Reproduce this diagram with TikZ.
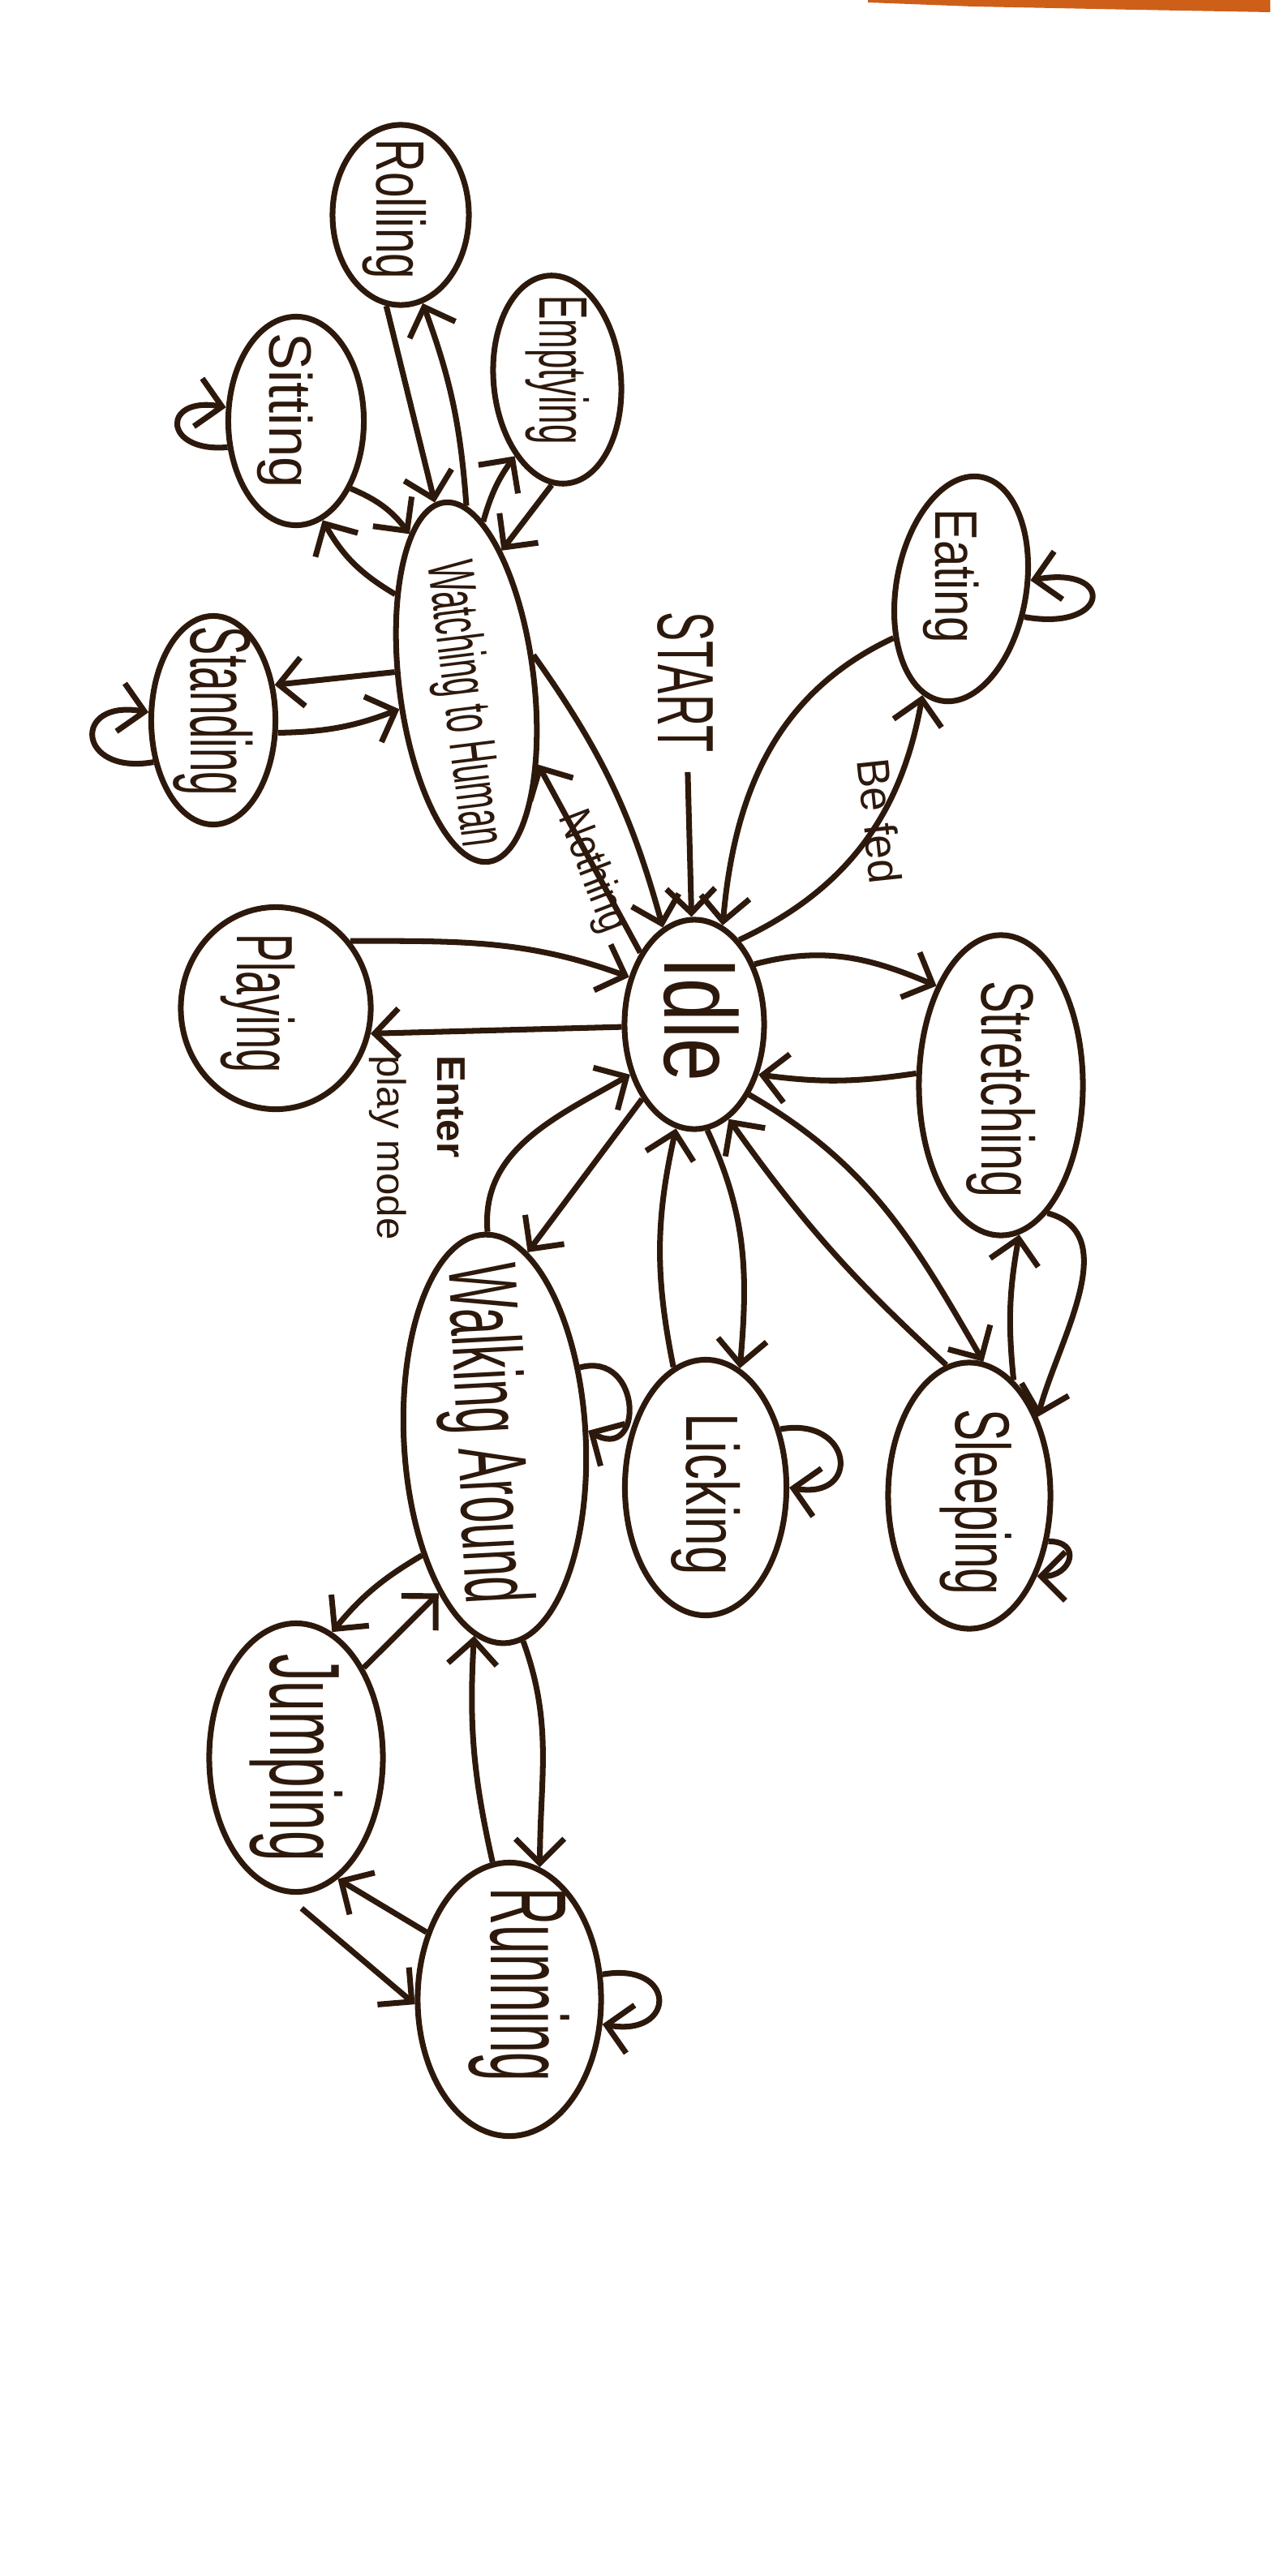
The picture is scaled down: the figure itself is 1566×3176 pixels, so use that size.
\documentclass[tikz,border=0pt]{standalone}
\usepackage{fontspec}
\setmainfont{Liberation Sans}
\usetikzlibrary{shapes.geometric,arrows.meta}
\definecolor{ink}{RGB}{45,25,12}
\definecolor{smudge}{RGB}{205,95,25}
\newcommand{\hw}[3][-90]{\rotatebox{#1}{\scalebox{#2}[1]{#3}}}
\tikzset{
  state/.style={ellipse,draw=ink,line width=2pt,inner sep=0pt},
  lbl/.style={text=ink,inner sep=0pt},
}
\begin{document}
\begin{tikzpicture}[x=0.01cm,y=0.01cm,line width=2pt,color=ink,>={Straight Barb[length=3mm,width=6mm]}]
	\fill[white] (0,0) rectangle (1566,-3176);
	\useasboundingbox (0,0) rectangle (1566,-3176);
	\fill[smudge] (1070,0) -- (1566,0) -- (1566,-15) -- (1400,-12) -- (1200,-8) -- (1070,-3) -- cycle;

	\node at (856,-1263)  [state,minimum width=1.72cm,minimum height=2.58cm,label={[lbl,font=\fontsize{36}{36}\selectfont,xshift=0.09cm,yshift=0.06cm]center:\hw{0.75}{Idle}}] (idle) {};
	\node at (1185,-726)  [state,rotate=-10,minimum width=1.60cm,minimum height=2.80cm,label={[lbl,font=\fontsize{21}{21}\selectfont,xshift=-0.12cm,yshift=0.16cm]center:\hw{0.79}{Eating}}] (eating) {};
	\node at (1234,-1338) [state,minimum width=2.02cm,minimum height=3.70cm,label={[lbl,font=\fontsize{26}{26}\selectfont,yshift=-0.05cm]center:\hw{0.65}{Stretching}}] (stretching) {};
	\node at (1195,-1844) [state,minimum width=2.00cm,minimum height=3.28cm,label={[lbl,font=\fontsize{27}{27}\selectfont,xshift=0.08cm,yshift=-0.08cm]center:\hw{0.62}{Sleeping}}] (sleeping) {};
	\node at (870,-1834)  [state,minimum width=1.99cm,minimum height=3.15cm,label={[lbl,font=\fontsize{26}{26}\selectfont,yshift=-0.08cm]center:\hw{0.7}{Licking}}] (licking) {};
	\node at (610,-1774)  [state,rotate=3,minimum width=2.24cm,minimum height=5.04cm,label={[lbl,font=\fontsize{34}{34}\selectfont,xshift=-0.15cm,yshift=0.06cm]center:\hw[-87]{0.5}{Walking Around}}] (walking) {};
	\node at (365,-2167)  [state,minimum width=2.14cm,minimum height=3.31cm,label={[lbl,font=\fontsize{35}{35}\selectfont]center:\hw{0.55}{Jumping}}] (jumping) {};
	\node at (628,-2465)  [state,minimum width=2.26cm,minimum height=3.37cm,label={[lbl,font=\fontsize{38}{38}\selectfont,xshift=0.12cm,yshift=0.18cm]center:\hw{0.48}{Running}}] (running) {};
	\node at (340,-1243)  [state,minimum width=2.34cm,minimum height=2.49cm,label={[lbl,font=\fontsize{28}{28}\selectfont,xshift=-0.22cm,yshift=0.06cm]center:\hw{0.53}{Playing}}] (playing) {};
	\node at (575,-841)   [state,rotate=7,minimum width=1.66cm,minimum height=4.46cm,label={[lbl,font=\fontsize{23}{23}\selectfont,xshift=-0.05cm,yshift=-0.27cm]center:\hw[-83]{0.5}{Watching to Human}}] (watching) {};
	\node at (263,-888)   [state,minimum width=1.53cm,minimum height=2.57cm,label={[lbl,font=\fontsize{30}{30}\selectfont,yshift=0.11cm]center:\hw{0.5}{Standing}}] (standing) {};
	\node at (365,-519)   [state,minimum width=1.67cm,minimum height=2.57cm,label={[lbl,font=\fontsize{21}{21}\selectfont,xshift=-0.13cm,yshift=0.13cm]center:\hw{0.93}{Sitting}}] (sitting) {};
	\node at (494,-265)   [state,minimum width=1.68cm,minimum height=2.22cm,label={[lbl,font=\fontsize{24}{24}\selectfont,xshift=-0.08cm,yshift=0.07cm]center:\hw{0.67}{Rolling}}] (rolling) {};
	\node at (687,-468)   [state,rotate=5,minimum width=1.57cm,minimum height=2.57cm,label={[lbl,font=\fontsize{24}{24}\selectfont,yshift=0.12cm]center:\hw{0.52}{Emptying}}] (emptying) {};

	\node at (845,-841)   [lbl,font=\fontsize{28}{28}\selectfont,inner sep=6pt] (start) {\hw{0.55}{START}};
	\node at (1085,-1012) [lbl,font=\fontsize{16}{16}\selectfont] (befed) {\hw[-84]{0.95}{Be fed}};
	\node at (730,-1075)  [lbl,font=\fontsize{16}{16}\selectfont] (nothing) {\hw[-69]{0.8}{Nothing}};
	\node at (517,-1415)  [lbl,font=\fontsize{14}{21}\selectfont] (playmode) {\rotatebox{-90}{\begin{tabular}{@{}l@{}}\textbf{Enter}\\play mode\end{tabular}}};

	\draw[->] (start) -- (idle);
	\draw[->] (idle.62) to[out=25,in=-100] (eating.-100);
	\draw[->] (eating.226) to[out=205,in=85] (idle.74);
	\draw[->] (eating.-14) to[out=-10,in=10,looseness=6] (eating.17);
	\draw[->] (idle.45) to[out=15,in=157] (stretching.123);
	\draw[->] (stretching.172) to[bend left=8] (idle.-38);
	\draw[->] (idle.-52) to[out=-30,in=120] (sleeping.84);
	\draw[->] (sleeping.100) to[bend left=6] (idle.-70);
	\draw[->] (stretching.-70) to[out=-15,in=75] (sleeping.49);
	\draw[->] (sleeping.69) to[bend left=8] (stretching.-83);
	\draw[->] (sleeping.-30) to[out=0,in=0,looseness=2.4] (sleeping.-50);
	\draw[->] (idle.-83) to[out=-65,in=85] (licking.74);
	\draw[->] (licking.105) to[bend left=12] (idle.-100);
	\draw[->] (licking.38) to[out=10,in=-10,looseness=3.2] (licking.0);
	\draw[->] (idle.-125) -- (walking.77);
	\draw[->] (walking.89) to[out=95,in=210] (idle.218);
	\draw[->] (walking.37) to[out=15,in=-30,looseness=2.6] (walking.2);
	\draw[->] (walking.-125) to[bend right=10] (jumping.74);
	\draw[->] (jumping.53) -- (walking.-113);
	\draw[->] (walking.-85) to[out=-70,in=90] (running.77);
	\draw[->] (running.97) to[bend left=8] (walking.-99);
	\draw[->] (running.141) -- (jumping.-71);
	\draw[->,shorten <=8pt] (jumping.-95) -- (running.183);
	\draw[->] (running.15) to[out=10,in=-10,looseness=3.9] (running.-15);
	\draw[->] (idle.182) -- (playing.-15);
	\draw[->] (playing.42) to[out=0,in=160] (idle.144);
	\draw[->] (watching.15) to[bend left=10] (idle.108);
	\draw[->] (idle.127) -- (watching.-56);
	\draw[->] (watching.165) -- (standing.30);
	\draw[->] (standing.-11) to[bend right=10] (watching.195);
	\draw[->] (standing.215) to[out=190,in=170,looseness=4] (standing.173);
	\draw[->] (watching.122) to[bend left=15] (sitting.-75);
	\draw[->] (sitting.-51) to[bend left=15] (watching.104);
	\draw[->] (sitting.201) to[out=185,in=170,looseness=4.2] (sitting.169);
	\draw[->] (rolling.-99) -- (watching.93);
	\draw[->] (watching.83) to[bend right=8] (rolling.-76);
	\draw[->] (watching.77) to[bend left=10] (emptying.-124);
	\draw[->] (emptying.-98) -- (watching.68);
\end{tikzpicture}
\end{document}
